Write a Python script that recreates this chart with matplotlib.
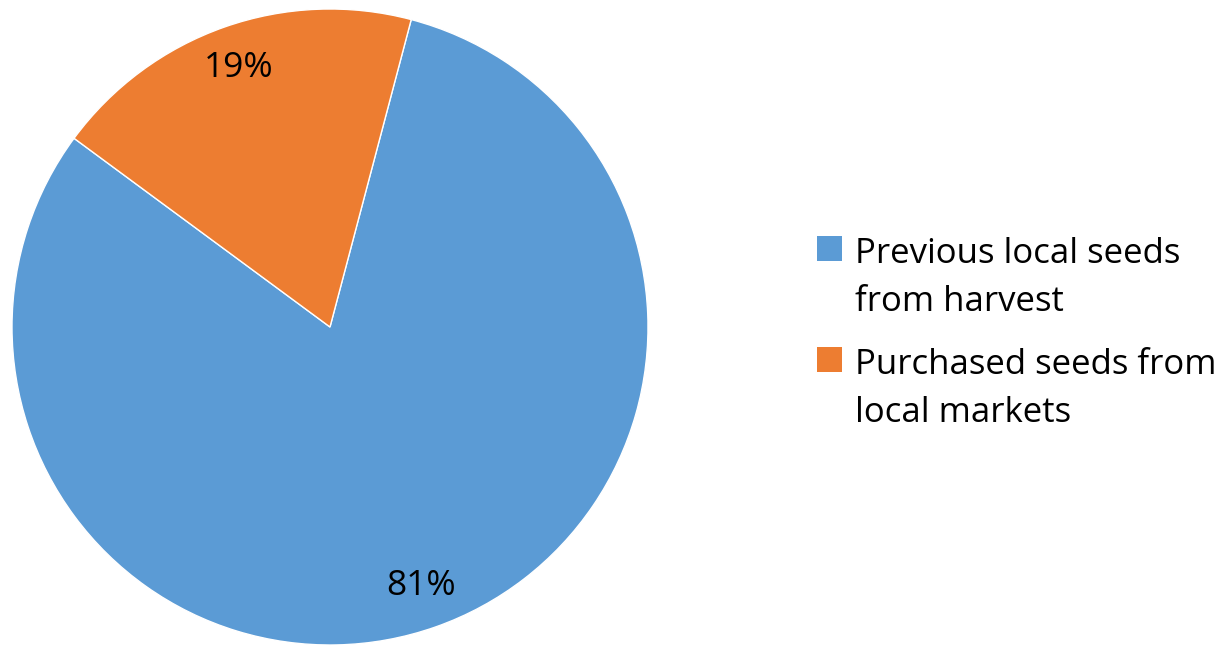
import matplotlib.pyplot as plt
from matplotlib.patches import Rectangle

plt.rcParams['font.family'] = ['Open Sans', 'DejaVu Sans']

labels = [['Previous local seeds', 'from harvest'], ['Purchased seeds from', 'local markets']]
values = [81, 19]
colors = ['#5B9BD5', '#ED7D31']

W, H = 1232, 650
fig = plt.figure(figsize=(W / 100, H / 100), dpi=100)
ax = fig.add_axes([12/W, 5/H, 636/W, 636/H])

wedges, texts, autotexts = ax.pie(values, colors=colors, startangle=143.6,
                                  autopct='%1.0f%%', pctdistance=0.865,
                                  wedgeprops=dict(edgecolor='white', linewidth=1),
                                  textprops=dict(fontsize=25.5, color='black'))
ax.set_xlim(-1, 1)
ax.set_ylim(-1, 1)
ax.set_aspect('equal')

# legend drawn by hand so the swatch sits level with the first text line
entry_top = [236, 347]
line_pitch = 48
for lines, c, top in zip(labels, colors, entry_top):
    fig.patches.append(Rectangle((817/W, 1 - (top + 25)/H), 25/W, 25/H,
                                 transform=fig.transFigure, facecolor=c, edgecolor='none'))
    for k, line in enumerate(lines):
        fig.text(855/W, 1 - (top + 27 + k*line_pitch)/H, line, fontsize=25,
                 ha='left', va='baseline')

fig.savefig('out.png', dpi=100)
